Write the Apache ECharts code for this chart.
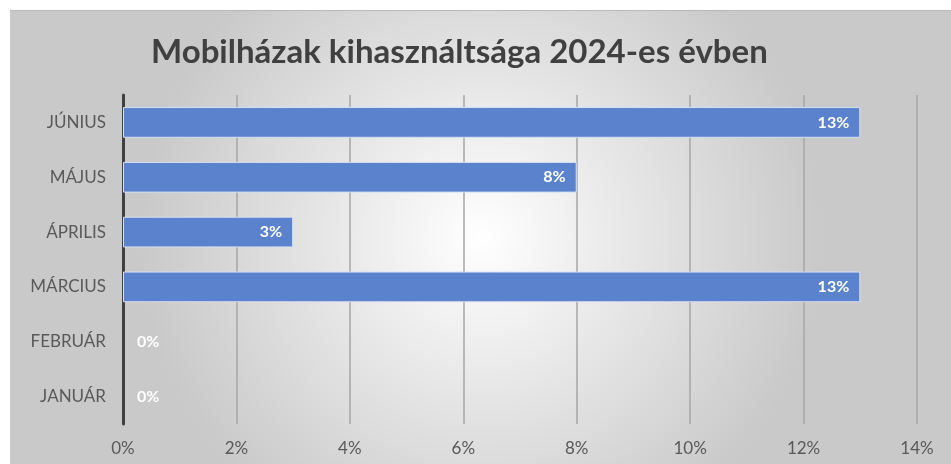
<!DOCTYPE html>
<html>
<head>
<meta charset="utf-8">
<script src="https://cdn.jsdelivr.net/npm/echarts@6/dist/echarts.min.js"></script>
<style>
  html, body { margin: 0; padding: 0; background: #fff; }
  #chart { position: absolute; left: 10px; top: 10px; width: 941px; height: 454px; border-top: 1px solid #b8b8b8; box-sizing: border-box; }
</style>
</head>
<body>
<div id="chart"></div>
<script>
// categories bottom -> top
const months = ["JANUÁR", "FEBRUÁR", "MÁRCIUS", "ÁPRILIS", "MÁJUS", "JÚNIUS"];
const usage = [0, 0, 13, 3, 8, 13];
const xTicks = [0, 2, 4, 6, 8, 10, 12, 14];

const font = "Lato, 'Open Sans', sans-serif";
const chart = echarts.init(document.getElementById("chart"));

// zero bars: no border, label just right of the axis
const seriesData = usage.map(v => {
  if (v === 0) {
    return { value: v, itemStyle: { borderWidth: 0 }, label: { position: "right", distance: 14 } };
  }
  return v;
});

chart.setOption({
  backgroundColor: new echarts.graphic.RadialGradient(0.5, 0.5, 0.75, [
    { offset: 0, color: "#ffffff" },
    { offset: 1, color: "#c9c9c9" }
  ]),
  title: {
    text: "Mobilházak kihasználtsága 2024-es évben",
    left: 136,
    top: 20,
    textStyle: { fontFamily: font, fontWeight: "bold", fontSize: 33, color: "#404040" }
  },
  grid: { left: 113, right: 34, top: 84, bottom: 40 },
  xAxis: {
    type: "value",
    min: xTicks[0],
    max: xTicks[xTicks.length - 1],
    interval: 2,
    axisLine: { show: false },
    axisTick: { show: false },
    axisLabel: { formatter: "{value}%", color: "#595959", fontSize: 17, fontFamily: font, margin: 16 },
    splitLine: { show: true, lineStyle: { color: "#a6a6a6", width: 1.5 } }
  },
  yAxis: {
    type: "category",
    data: months,
    axisLine: { show: true, lineStyle: { color: "#404040", width: 3 } },
    axisTick: { show: false },
    axisLabel: { color: "#595959", fontSize: 17, fontFamily: font, margin: 17 }
  },
  series: [{
    type: "bar",
    data: seriesData,
    barWidth: "56%",
    itemStyle: { color: "#5b82cc", borderColor: "#d6e0f2", borderWidth: 1 },
    label: {
      show: true,
      position: "insideRight",
      distance: 11,
      formatter: "{c}%",
      color: "#ffffff",
      fontWeight: "bold",
      fontSize: 16,
      fontFamily: font
    }
  }]
});
</script>
</body>
</html>
